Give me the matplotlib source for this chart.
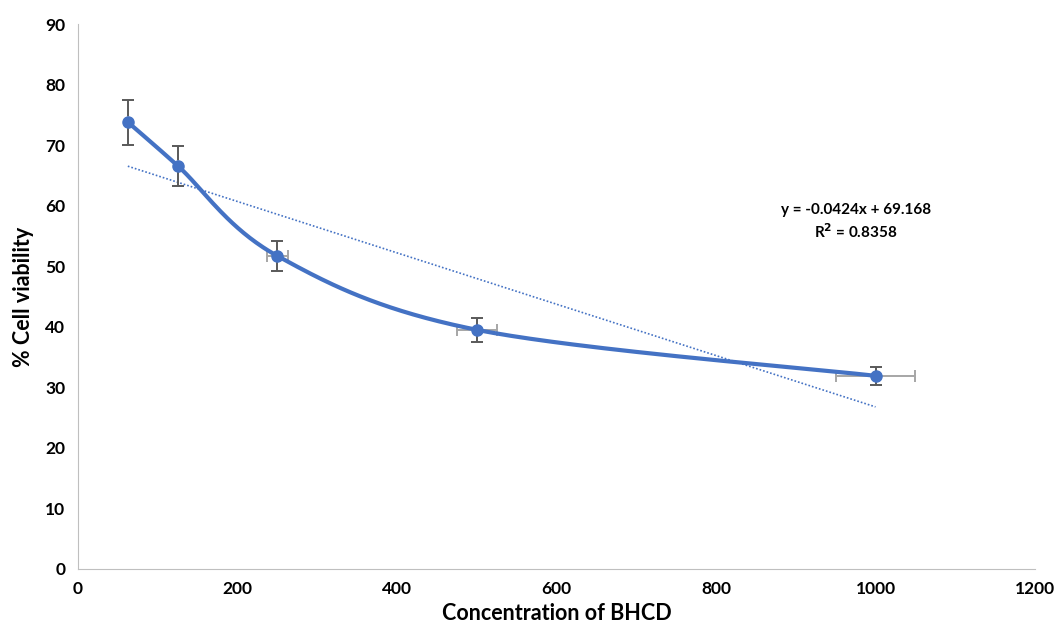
import numpy as np
import matplotlib.pyplot as plt

conc = [62.5, 125, 250, 500, 1000]
viability = [73.8, 66.6, 51.7, 39.5, 31.9]
y_err = [3.7, 3.3, 2.5, 2.0, 1.5]
x_err = [0, 0, 13, 25, 50]
slope, intercept = -0.0424, 69.168
eq_text = "y = -0.0424x + 69.168\nR$^\\mathbf{2}$ = 0.8358"

blue = '#4472C4'
plt.rcParams['font.family'] = ['Lato', 'DejaVu Sans']
plt.rcParams['font.weight'] = 'bold'
plt.rcParams['mathtext.default'] = 'bf'


def smooth_curve(xs, ys, sx, sy, n=60):
    # Excel-like smoothing: Catmull-Rom in screen-scaled space
    px = np.asarray(xs) / sx
    py = np.asarray(ys) / sy
    pts = np.column_stack([px, py])
    out = []
    for i in range(len(pts) - 1):
        p0 = pts[i - 1] if i > 0 else pts[i]
        p1, p2 = pts[i], pts[i + 1]
        p3 = pts[i + 2] if i + 2 < len(pts) else pts[i + 1]
        c1 = p1 + (p2 - p0) / 6
        c2 = p2 - (p3 - p1) / 6
        t = np.linspace(0, 1, n)[:, None]
        seg = ((1 - t) ** 3) * p1 + 3 * ((1 - t) ** 2) * t * c1 + 3 * (1 - t) * t ** 2 * c2 + t ** 3 * p2
        out.append(seg)
    out = np.vstack(out)
    return out[:, 0] * sx, out[:, 1] * sy


fig = plt.figure(figsize=(10.61, 6.37), dpi=100)
ax = fig.add_axes([0.0735, 0.1068, 0.902, 0.8555])

# aspect of axes in pixels: 957 x 545
cx, cy = smooth_curve(conc, viability, 1200 / 957, 90 / 545)
ax.plot(cx, cy, color=blue, lw=3, zorder=3)

ax.errorbar(conc, viability, yerr=y_err, fmt='none', ecolor='#595959',
            elinewidth=1.4, capsize=4, capthick=1.4, zorder=2)
ax.errorbar(conc, viability, xerr=x_err, fmt='none', ecolor='#A6A6A6',
            elinewidth=1.4, capsize=4, capthick=1.4, zorder=2)
ax.plot(conc, viability, 'o', color=blue, ms=8, zorder=4)

tx = np.array([conc[0], conc[-1]])
ax.plot(tx, slope * tx + intercept, color=blue, lw=1.2, ls=(0, (1, 1.2)), zorder=1)

ax.text(975, 60.4, eq_text, ha='center', va='top', fontsize=11,
        fontweight='bold', linespacing=1.35)

ax.set_xlim(0, 1200)
ax.set_ylim(0, 90)
ax.set_xticks(range(0, 1201, 200))
ax.set_yticks(range(0, 91, 10))
ax.tick_params(length=0, labelsize=12.5, pad=9)
for lbl in ax.get_xticklabels() + ax.get_yticklabels():
    lbl.set_fontweight('bold')
for s in ['top', 'right']:
    ax.spines[s].set_visible(False)
for s in ['left', 'bottom']:
    ax.spines[s].set_color('#BFBFBF')
ax.set_xlabel('Concentration of BHCD', fontsize=15.5, fontweight='bold', labelpad=4)
ax.set_ylabel('% Cell viability', fontsize=15.5, fontweight='bold', labelpad=8)

fig.savefig('out.png', dpi=100)
